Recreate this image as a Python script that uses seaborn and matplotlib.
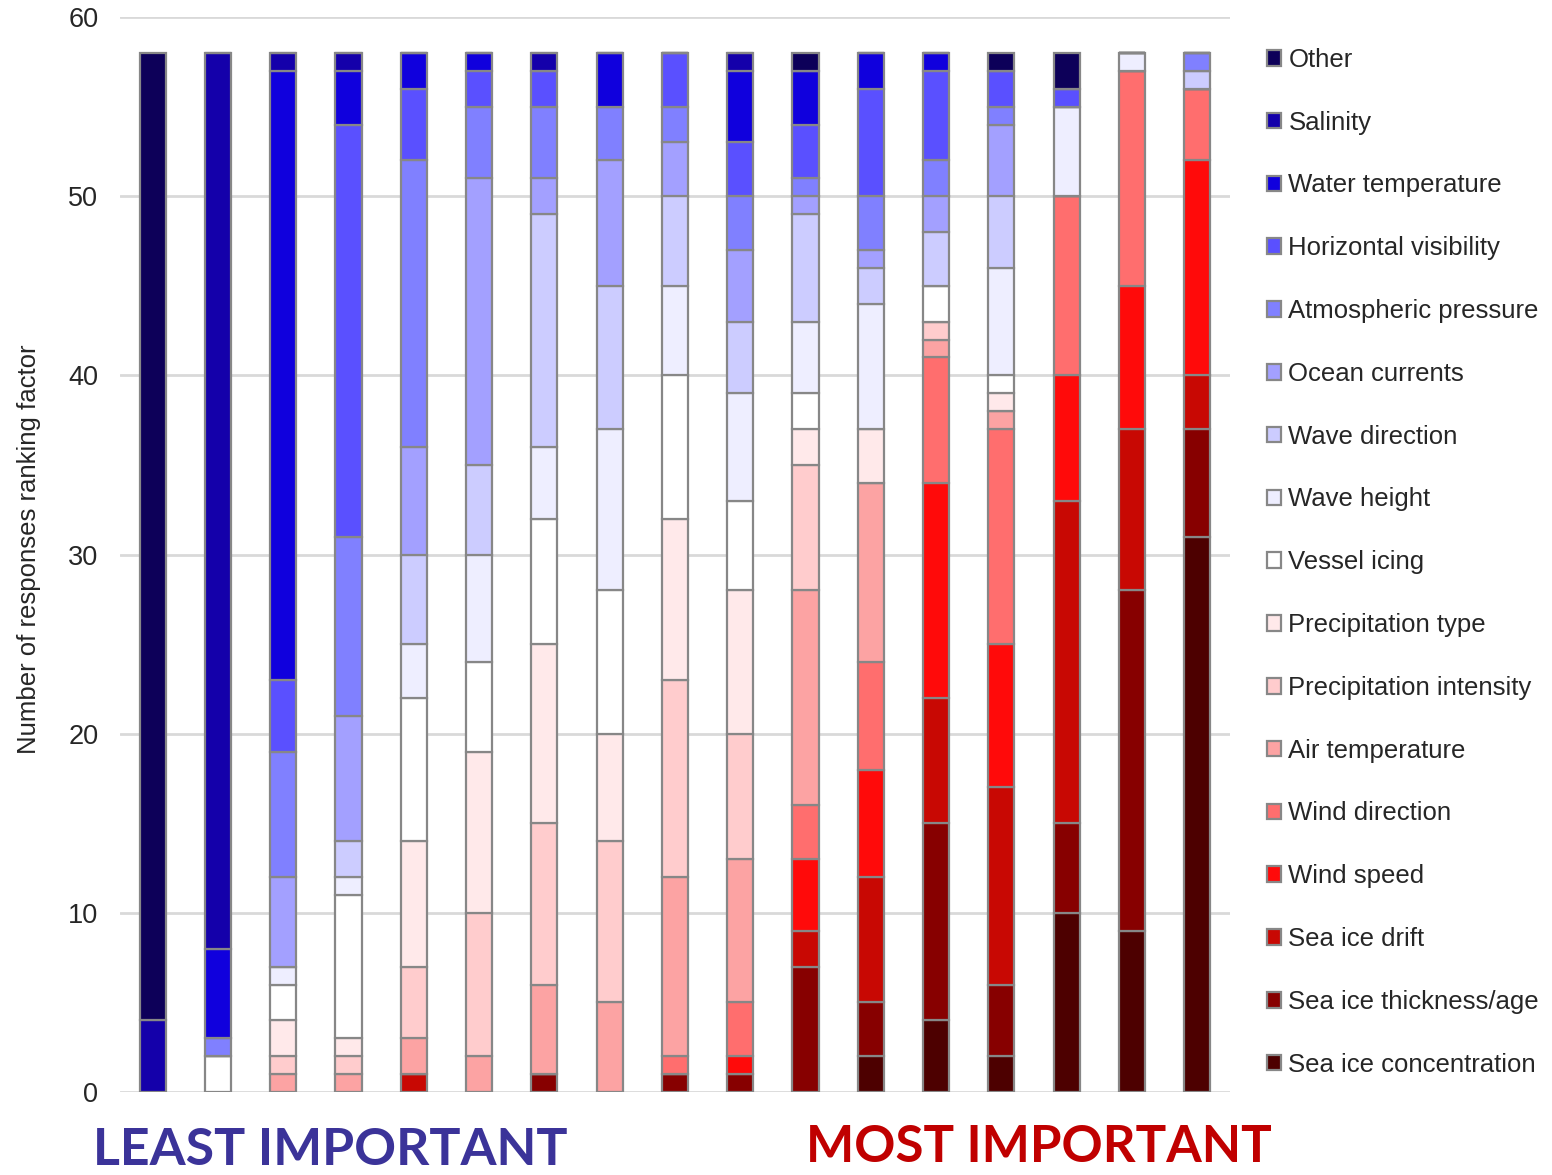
import numpy as np
import pandas as pd
import matplotlib
matplotlib.use("Agg")
import matplotlib.pyplot as plt
from matplotlib.patches import Patch
import seaborn as sns

# factors, top of stack first (same order as legend)
factors = ["Other", "Salinity", "Water temperature", "Horizontal visibility",
           "Atmospheric pressure", "Ocean currents", "Wave direction", "Wave height",
           "Vessel icing", "Precipitation type", "Precipitation intensity",
           "Air temperature", "Wind direction", "Wind speed", "Sea ice drift",
           "Sea ice thickness/age", "Sea ice concentration"]

colors = ["#0d0059", "#1400aa", "#1000dd", "#5a50ff", "#8080ff", "#a3a0ff",
          "#ccccff", "#eeeeff", "#ffffff", "#ffe9ea", "#ffcccd", "#fca3a3",
          "#ff6e6e", "#ff0a0a", "#c80803", "#870000", "#4d0000"]

# rank positions, least important (1) to most important (17)
ranks = list(range(1, 18))

# counts per factor for each rank position 1..17
other          = [54, 0, 0, 0, 0, 0, 0, 0, 0, 0, 1, 0, 0, 1, 2, 0, 0]
salinity       = [4, 50, 1, 1, 0, 0, 1, 0, 0, 1, 0, 0, 0, 0, 0, 0, 0]
water_temp     = [0, 5, 34, 3, 2, 1, 0, 3, 0, 4, 3, 2, 1, 0, 0, 0, 0]
horiz_vis      = [0, 0, 4, 23, 4, 2, 2, 0, 3, 3, 3, 6, 5, 2, 1, 0, 0]
atm_pressure   = [0, 1, 7, 10, 16, 4, 4, 3, 2, 3, 1, 3, 2, 1, 0, 0, 1]
ocean_currents = [0, 0, 5, 7, 6, 16, 2, 7, 3, 4, 1, 1, 2, 4, 0, 0, 0]
wave_direction = [0, 0, 0, 2, 5, 5, 13, 8, 5, 4, 6, 2, 3, 4, 0, 0, 1]
wave_height    = [0, 0, 1, 1, 3, 6, 4, 9, 5, 6, 4, 7, 0, 6, 5, 1, 0]
vessel_icing   = [0, 2, 2, 8, 8, 5, 7, 8, 8, 5, 2, 0, 2, 1, 0, 0, 0]
precip_type    = [0, 0, 2, 1, 7, 9, 10, 6, 9, 8, 2, 3, 0, 1, 0, 0, 0]
precip_int     = [0, 0, 1, 1, 4, 8, 9, 9, 11, 7, 7, 0, 1, 0, 0, 0, 0]
air_temp       = [0, 0, 1, 1, 2, 2, 5, 5, 10, 8, 12, 10, 1, 1, 0, 0, 0]
wind_direction = [0, 0, 0, 0, 0, 0, 0, 0, 1, 3, 3, 6, 7, 12, 10, 12, 4]
wind_speed     = [0, 0, 0, 0, 0, 0, 0, 0, 0, 1, 4, 6, 12, 8, 7, 8, 12]
ice_drift      = [0, 0, 0, 0, 1, 0, 0, 0, 0, 0, 2, 7, 7, 11, 18, 9, 3]
ice_thickness  = [0, 0, 0, 0, 0, 0, 1, 0, 1, 1, 7, 3, 11, 4, 5, 19, 6]
ice_conc       = [0, 0, 0, 0, 0, 0, 0, 0, 0, 0, 0, 2, 4, 2, 10, 9, 31]

series = [other, salinity, water_temp, horiz_vis, atm_pressure, ocean_currents,
          wave_direction, wave_height, vessel_icing, precip_type, precip_int,
          air_temp, wind_direction, wind_speed, ice_drift, ice_thickness, ice_conc]

rows = []
for name, vals in zip(factors, series):
    for r, v in zip(ranks, vals):
        if v > 0:
            rows.append({"rank": r, "factor": name, "count": v})
df = pd.DataFrame(rows)

sns.set_theme(style="white")
plt.rcParams["font.family"] = ["Liberation Sans", "DejaVu Sans"]

fig = plt.figure(figsize=(15.52, 11.75), dpi=100)
ax = fig.add_axes([0.0773, 0.0706, 0.7152, 0.9149])

palette = dict(zip(factors, colors))
sns.histplot(data=df, x="rank", weights="count", hue="factor", hue_order=factors,
             multiple="stack", discrete=True, shrink=0.4, palette=palette,
             alpha=1, edgecolor="#878787", linewidth=1.6, legend=False, ax=ax)

ax.set_xlim(0.5, 17.5)
ax.set_ylim(0, 60)
ax.set_yticks(range(0, 61, 10))
ax.yaxis.grid(True, color="#d9d9d9", linewidth=2)
ax.set_axisbelow(True)
ax.set_xticks([])
ax.set_xlabel("")
ax.set_ylabel("Number of responses ranking factor", fontsize=18.5)
ax.yaxis.set_label_coords(-0.071, 0.505)
ax.tick_params(axis="y", labelsize=19.5, length=0, pad=15.5)
for s in ax.spines.values():
    s.set_visible(False)

handles = [Patch(facecolor=c, edgecolor="#878787", linewidth=1.6) for c in colors]
fig.legend(handles, factors, loc="upper left", bbox_to_anchor=(0.8095, 0.968),
           frameon=False, fontsize=18.5, labelspacing=1.51, handlelength=0.55,
           handleheight=0.55, handletextpad=0.3, borderaxespad=0)

fig.text(0.0599, 0.001, "LEAST IMPORTANT", color="#3b3399", fontsize=37.4,
         fontweight="bold", family="Lato", ha="left", va="bottom")
fig.text(0.5193, 0.003, "MOST IMPORTANT", color="#c00000", fontsize=36.8,
         fontweight="bold", family="Lato", ha="left", va="bottom")

fig.savefig("out.png", dpi=100)
